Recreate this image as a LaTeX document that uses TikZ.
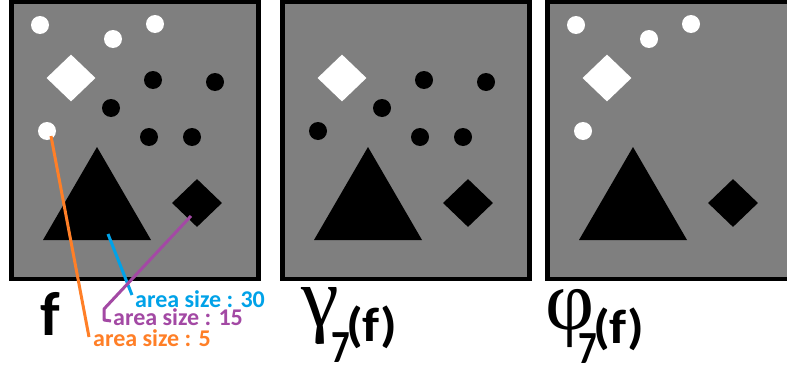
\documentclass[tikz,border=0pt]{standalone}
\usepackage{fontspec}
\setmainfont{Carlito}
\newfontfamily\grk{Liberation Serif}
\usetikzlibrary{shapes.geometric}
\definecolor{panelgray}{RGB}{127,127,127}
\definecolor{lorange}{RGB}{255,127,39}
\definecolor{lblue}{RGB}{0,162,232}
\definecolor{lpurple}{RGB}{163,73,164}
\tikzset{
  panel/.style={draw=black, line width=4.5pt, fill=panelgray},
  wdot/.style={circle, fill=white, minimum size=18pt, inner sep=0pt},
  bdot/.style={circle, fill=black, minimum size=18pt, inner sep=0pt},
  wdiam/.style={diamond, fill=white, minimum width=49pt, minimum height=47pt, inner sep=0pt},
  bdiam/.style={diamond, fill=black, minimum width=50pt, minimum height=48pt, inner sep=0pt},
  tri/.style={fill=black},
  lbl/.style={anchor=base west, inner sep=0pt, font=\bfseries\fontsize{24}{28}\selectfont},
  sub/.style={anchor=base west, inner sep=0pt, font=\bfseries\fontsize{46}{50}\selectfont},
  arg/.style={anchor=base west, inner sep=0pt, font=\bfseries\fontsize{48}{52}\selectfont},
  greek/.style={anchor=base west, inner sep=0pt, font=\grk\fontsize{85}{90}\selectfont},
  leader/.style={line width=3pt}
}
\begin{document}
\begin{tikzpicture}[x=1pt,y=-1pt]
\useasboundingbox (0,0) rectangle (787,372);
\clip (0,0) rectangle (787,372);
\fill[white] (0,0) rectangle (787,372);

% panel 1
\draw[panel] (11.5,1.5) rectangle (258.5,279);
\node[wdot] (a1) at (40,25) {};
\node[wdot] (a2) at (113,39) {};
\node[wdot] (a3) at (155,24) {};
\node[wdot] (a4) at (47,131) {};
\node[wdiam] (ad) at (71,78) {};
\node[bdot] (b1) at (153,80) {};
\node[bdot] (b2) at (215,82) {};
\node[bdot] (b3) at (111,108) {};
\node[bdot] (b4) at (149,137) {};
\node[bdot] (b5) at (192,137) {};
\fill[tri] (97,147) -- (151,240) -- (43,240) -- cycle;
\coordinate (tri1) at (108,234);
\node[bdiam] (bd) at (197,203) {};
\coordinate (bdp) at (191,216);
\coordinate (a4p) at (51,136);

% panel 2
\draw[panel] (282.5,1.5) rectangle (529.5,279);
\node[wdiam] (cd) at (342,78) {};
\node[bdot] (c1) at (424,80) {};
\node[bdot] (c2) at (486,82) {};
\node[bdot] (c3) at (382,108) {};
\node[bdot] (c4) at (420,137) {};
\node[bdot] (c5) at (463,137) {};
\node[bdot] (c6) at (318,131) {};
\fill[tri] (368,147) -- (422,240) -- (314,240) -- cycle;
\node[bdiam] (cbd) at (468,203) {};

% panel 3
\draw[panel] (547.5,1.5) rectangle (794.5,279);
\node[wdot] (d1) at (576,25) {};
\node[wdot] (d2) at (649,39) {};
\node[wdot] (d3) at (691,24) {};
\node[wdot] (d4) at (583,131) {};
\node[wdiam] (dd) at (607,78) {};
\fill[tri] (633,147) -- (687,240) -- (579,240) -- cycle;
\node[bdiam] (dbd) at (733,203) {};

% labels
\node[lbl, text=lblue] (l30) at (135,307) {area size : 30};
\node[lbl, text=lpurple] (l15) at (113,325) {area size : 15};
\node[lbl, text=lorange] (l5) at (93,346) {area size : 5};
\coordinate (e30) at (132,295);
\coordinate (e5) at (89,337);
\coordinate (p1) at (104,309);
\coordinate (p2) at (104,320);
\coordinate (p3) at (111,321);

\draw[leader, lorange] (a4p) -- (e5);
\draw[leader, lblue] (tri1) -- (e30);
\draw[leader, lpurple, line join=round] (bdp) -- (p1) -- (p2) -- (p3);

\node[anchor=base west, inner sep=0pt, font=\bfseries\fontsize{62}{66}\selectfont] (f) at (40,335) {f};

\node[greek] (g) at (301,326) {γ};
\node[sub] (g7) at (331,362) {\scalebox{0.8}[1]{7}};
\node[arg] (gf) at (346,341) {\scalebox{1.12}[1]{(f)}};

\node[greek] (ph) at (545,329) {φ};
\node[sub] (p7) at (578,363) {\scalebox{0.8}[1]{7}};
\node[arg] (pf) at (593,343) {\scalebox{1.12}[1]{(f)}};
\end{tikzpicture}
\end{document}
